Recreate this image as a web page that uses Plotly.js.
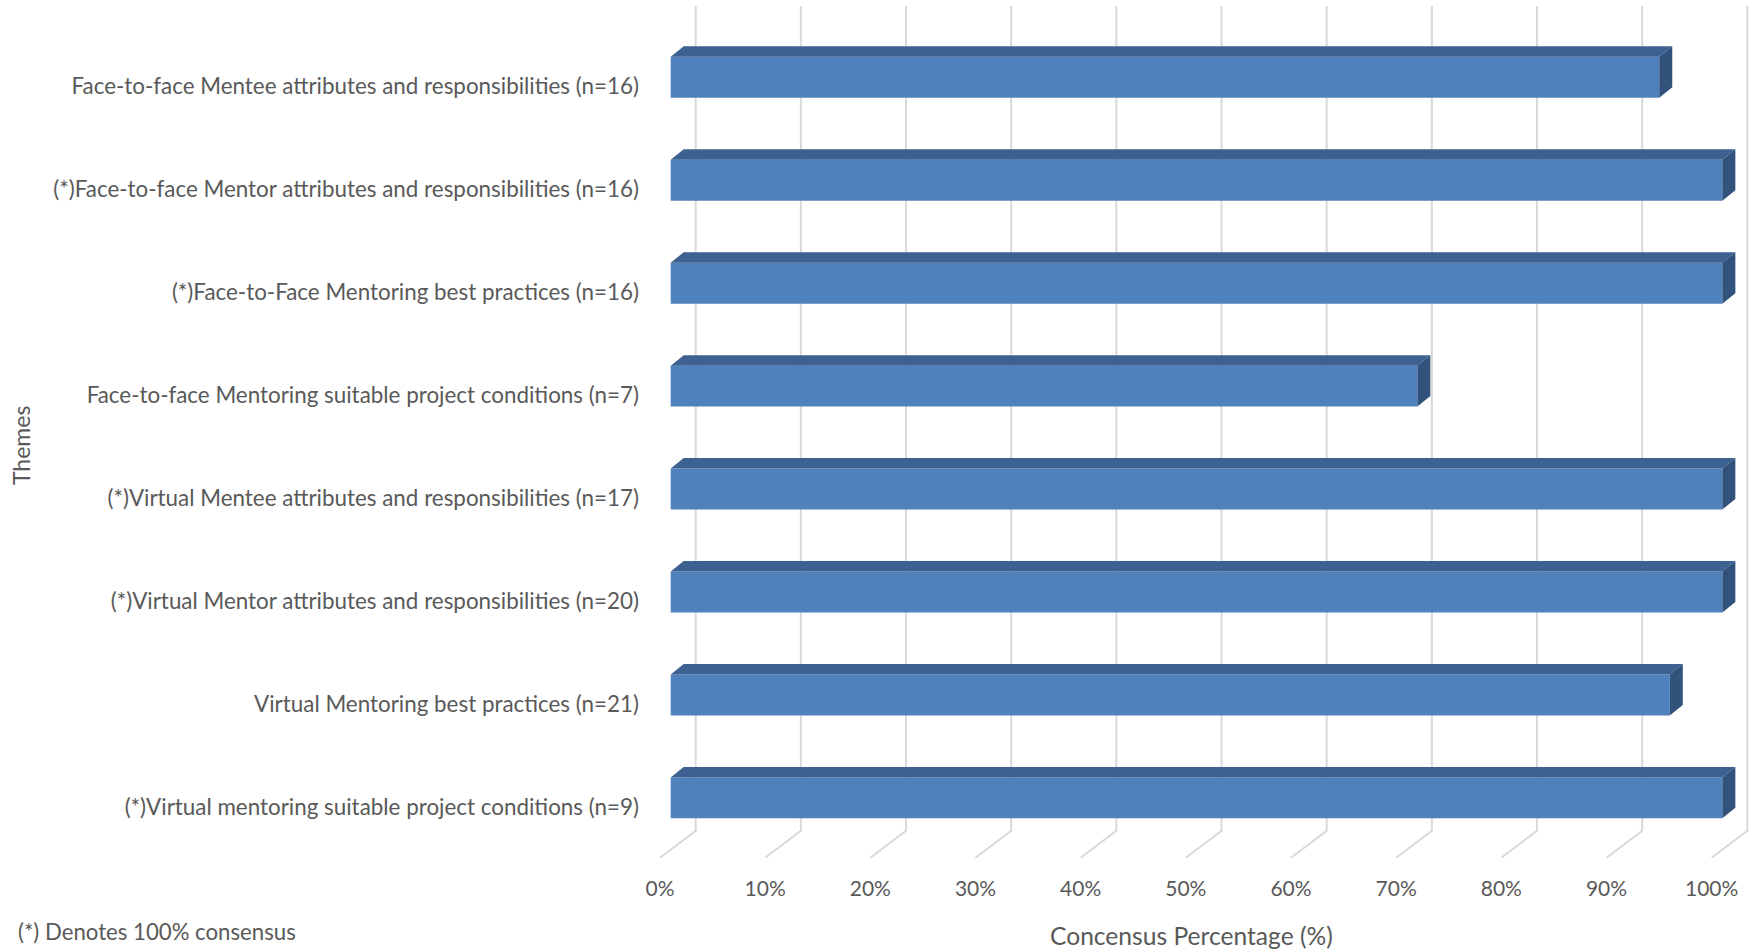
<!DOCTYPE html>
<html>
<head>
<meta charset="utf-8">
<script src="https://cdn.plot.ly/plotly-3.0.1.min.js"></script>
<style>html,body{margin:0;padding:0;background:#fff;}#chart{width:1758px;height:952px;}</style>
</head>
<body>
<div id="chart"></div>
<script>
// ---- data ----
const categories = [
  "Face-to-face Mentee attributes and responsibilities (n=16)",
  "(*)Face-to-face Mentor attributes and responsibilities (n=16)",
  "(*)Face-to-Face Mentoring best practices (n=16)",
  "Face-to-face Mentoring suitable project conditions (n=7)",
  "(*)Virtual Mentee attributes and responsibilities (n=17)",
  "(*)Virtual Mentor attributes and responsibilities (n=20)",
  "Virtual Mentoring best practices (n=21)",
  "(*)Virtual mentoring suitable project conditions (n=9)"
];
const consensus = [94, 100, 100, 71, 100, 100, 95, 100];
const tickValues = [0, 10, 20, 30, 40, 50, 60, 70, 80, 90, 100];
const tickLabels = tickValues.map(v => v + "%");
const xTitle = "Concensus Percentage (%)";
const yTitle = "Themes";
const footnote = "(*) Denotes 100% consensus";

// ---- style / geometry constants ----
const FONT = "Lato, 'Open Sans', sans-serif";
const TXT = "#595959";
const FRONT = "#4F81BD", TOP = "#3D6190", SIDE = "#31527A";
const BAR_H = 0.398, BAR_OFF = -0.1116;
const DEPTH_DX = 1.236, DEPTH_DY = 0.102;
const GRID_BACK_DX = 2.377, GRID_TOP_Y = 7.78, GRID_FLOOR_BACK_Y = -0.2314;
const FLOOR_DX = -1.0175, FLOOR_FRONT_Y = -0.4937;

const pos = categories.map((c, i) => categories.length - 1 - i);

// top & side faces
const topX = [], topY = [], sideX = [], sideY = [];
consensus.forEach((v, i) => {
  const bot = pos[i] + BAR_OFF, top = bot + BAR_H;
  topX.push(0, v, v + DEPTH_DX, DEPTH_DX, 0, null);
  topY.push(top, top, top + DEPTH_DY, top + DEPTH_DY, top, null);
  sideX.push(v, v + DEPTH_DX, v + DEPTH_DX, v, v, null);
  sideY.push(top, top + DEPTH_DY, bot + DEPTH_DY, bot, top, null);
});

const traces = [
  {type: "bar", orientation: "h", x: consensus, y: pos, width: BAR_H, offset: BAR_OFF,
   marker: {color: FRONT, line: {width: 0}}, hoverinfo: "x+text", text: categories, textposition: "none"},
  {type: "scatter", mode: "lines", x: topX, y: topY, fill: "toself", fillcolor: TOP,
   line: {width: 0, color: TOP}, hoverinfo: "skip"},
  {type: "scatter", mode: "lines", x: sideX, y: sideY, fill: "toself", fillcolor: SIDE,
   line: {width: 0, color: SIDE}, hoverinfo: "skip"}
];

const shapes = tickValues.map(v => ({
  type: "path", xref: "x", yref: "y", layer: "below",
  path: `M ${v + GRID_BACK_DX},${GRID_TOP_Y} L ${v + GRID_BACK_DX},${GRID_FLOOR_BACK_Y} L ${v + FLOOR_DX},${FLOOR_FRONT_Y}`,
  line: {color: "#D9D9D9", width: 2}
}));

const layout = {
  width: 1758, height: 952,
  margin: {l: 650, r: 0, t: 0, b: 84},
  paper_bgcolor: "#fff", plot_bgcolor: "#fff",
  showlegend: false,
  font: {family: FONT, color: TXT},
  xaxis: {
    range: [-1.968, 103.39], showgrid: false, zeroline: false, showline: false,
    tickvals: tickValues.map(v => v + FLOOR_DX), ticktext: tickLabels, ticks: "",
    ticklabelstandoff: 6,
    tickfont: {family: FONT, size: 21, color: TXT}
  },
  yaxis: {
    range: [-0.5937, 7.8384], showgrid: false, zeroline: false, showline: false,
    tickvals: pos, ticktext: categories, ticks: "", ticklabelstandoff: 10,
    tickfont: {family: FONT, size: 22.4, color: TXT}
  },
  shapes: shapes,
  annotations: [
    {text: xTitle, xref: "paper", yref: "paper", x: 0.4883, y: -0.0783,
     xanchor: "center", yanchor: "middle", showarrow: false, font: {family: FONT, size: 24.6, color: TXT}},
    {text: yTitle, xref: "paper", yref: "paper", x: -0.5677, y: 0.4873, textangle: -90,
     xanchor: "center", yanchor: "middle", showarrow: false, font: {family: FONT, size: 23, color: TXT}},
    {text: footnote, xref: "paper", yref: "paper", x: -0.5725, y: -0.0737,
     xanchor: "left", yanchor: "middle", showarrow: false, font: {family: FONT, size: 22.2, color: TXT}}
  ]
};

Plotly.newPlot("chart", traces, layout, {displayModeBar: false, staticPlot: true});
</script>
</body>
</html>
